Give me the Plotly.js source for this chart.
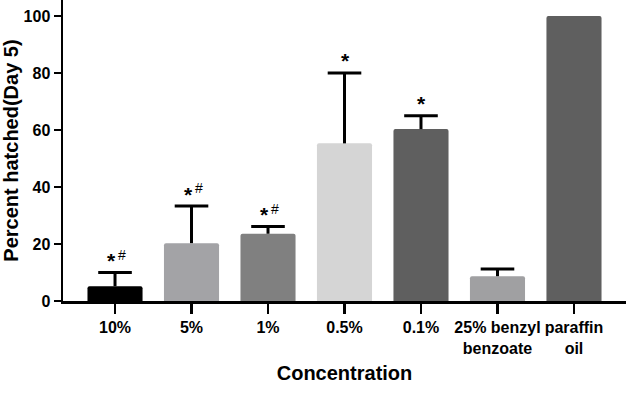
<!DOCTYPE html>
<html>
<head>
<meta charset="utf-8">
<script src="https://cdn.plot.ly/plotly-3.0.1.min.js"></script>
<style>html,body{margin:0;padding:0;background:#fff;}#chart{width:626px;height:409px;}</style>
</head>
<body>
<div id="chart"></div>
<script>
var categories = ['10%', '5%', '1%', '0.5%', '0.1%', '25% benzyl<br>benzoate', 'paraffin<br>oil'];
var values = [5.2, 20.3, 23.6, 55.3, 60.3, 8.7, 100];
var errorsUp = [4.8, 13.0, 2.5, 24.7, 4.7, 2.5, 0];
var marks = ['*#', '*#', '*#', '*', '*', '', ''];
var barColors = ['#000000', '#a3a3a6', '#808080', '#d5d5d5', '#5f5f5f', '#a0a0a2', '#5f5f5f'];

var FONT = 'Liberation Sans, Arial, Helvetica, sans-serif';
var xIdx = categories.map(function (c, i) { return i; });
var zeros = values.map(function () { return 0; });

var bars = {
  type: 'bar',
  x: xIdx,
  y: values,
  width: 0.72,
  marker: { color: barColors, line: { width: 0 } },
  error_y: { type: 'data', symmetric: false, array: errorsUp, arrayminus: zeros,
             color: '#000', thickness: 3, width: 0 },
  hoverinfo: 'none'
};

// caps at the top of the one-sided error bars
var withErr = xIdx.filter(function (i) { return errorsUp[i] > 0; });
var caps = {
  type: 'scatter', mode: 'markers',
  x: withErr,
  y: withErr.map(function (i) { return values[i] + errorsUp[i]; }),
  marker: { symbol: 'line-ew', size: 24, line: { width: 3, color: '#000' }, color: '#000' },
  hoverinfo: 'none', cliponaxis: false
};

var annotations = [];
marks.forEach(function (m, i) {
  if (!m) return;
  var top = values[i] + errorsUp[i];
  var hasHash = m.indexOf('#') >= 0;
  annotations.push({
    x: i, y: top, xref: 'x', yref: 'y', text: '*', showarrow: false,
    yanchor: 'middle', yshift: 12, xshift: hasHash ? -3.5 : 1,
    font: { family: FONT, size: 21, color: '#000', weight: 'bold' }
  });
  if (hasHash) {
    annotations.push({
      x: i, y: top, xref: 'x', yref: 'y', text: '#', showarrow: false,
      yanchor: 'middle', yshift: 18, xshift: 7,
      font: { family: FONT, size: 14, color: '#000' }
    });
  }
});

var layout = {
  width: 626, height: 409,
  margin: { l: 63, r: 0, t: 0, b: 108 },
  paper_bgcolor: '#fff', plot_bgcolor: '#fff',
  showlegend: false,
  barcornerradius: 2,
  xaxis: {
    range: [-0.68, 6.68],
    tickmode: 'array', tickvals: xIdx, ticktext: categories, tickangle: 0,
    showgrid: false, zeroline: false,
    showline: true, linecolor: '#000', linewidth: 2.5,
    ticks: 'outside', ticklen: 10, tickwidth: 2.5, tickcolor: '#000',
    tickfont: { family: FONT, size: 16, color: '#000', weight: 'bold' },
    title: { text: 'Concentration', font: { family: FONT, size: 20, color: '#000', weight: 'bold' }, standoff: 11 }
  },
  yaxis: {
    range: [0, 105.6],
    tickmode: 'array', tickvals: [0, 20, 40, 60, 80, 100],
    showgrid: false, zeroline: false,
    showline: true, linecolor: '#000', linewidth: 2.5,
    ticks: 'outside', ticklen: 7, tickwidth: 2.5, tickcolor: '#000',
    tickfont: { family: FONT, size: 16, color: '#000', weight: 'bold' },
    title: { text: 'Percent hatched(Day 5)', font: { family: FONT, size: 20, color: '#000', weight: 'bold' }, standoff: 6 }
  },
  annotations: annotations
};

Plotly.newPlot('chart', [bars, caps], layout, { displayModeBar: false, staticPlot: true });
</script>
</body>
</html>
